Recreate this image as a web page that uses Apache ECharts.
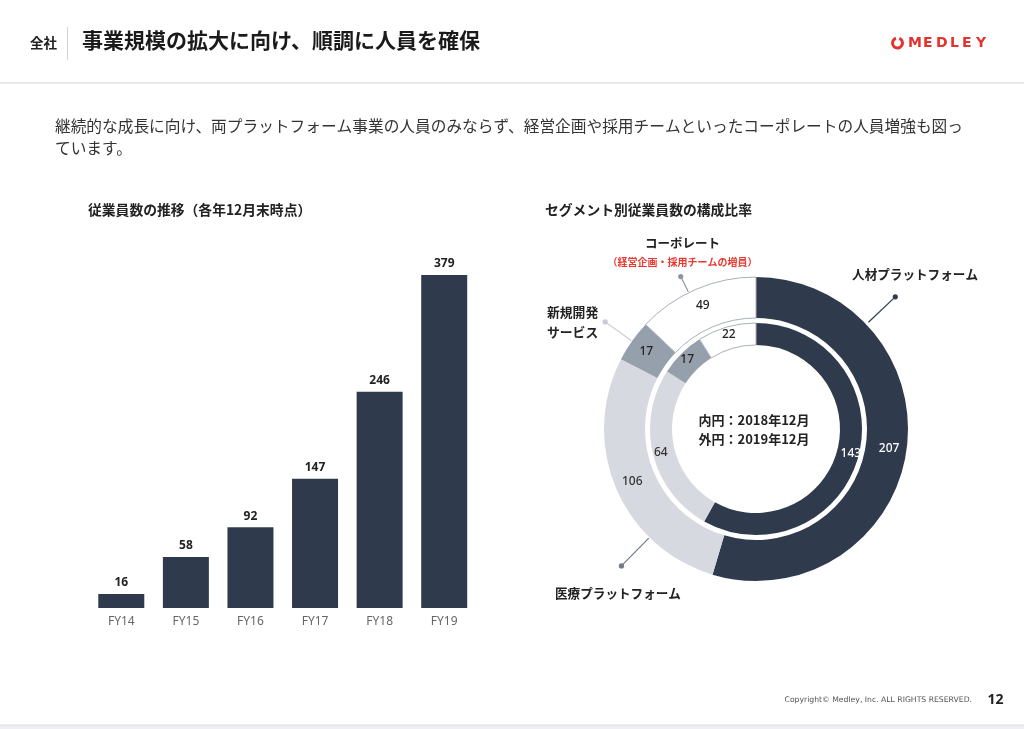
<!DOCTYPE html>
<html>
<head>
<meta charset="utf-8">
<script src="https://cdn.jsdelivr.net/npm/echarts@6/dist/echarts.min.js"></script>
<style>
html,body{margin:0;padding:0;background:#fff;}
#chart{width:1024px;height:729px;}
</style>
</head>
<body>
<div id="chart"></div>
<script>
// ---- data ----
const categories = ['FY14', 'FY15', 'FY16', 'FY17', 'FY18', 'FY19'];
const employees = [16, 58, 92, 147, 246, 379];
const segmentNames = ['人材プラットフォーム', '医療プラットフォーム', '新規開発サービス', 'コーポレート'];
const outer2019 = [207, 106, 17, 49];
const inner2018 = [143, 64, 17, 22];

// ---- styles ----
const JP = '"Noto Sans CJK JP", "Noto Sans", sans-serif';
const DARK = '#2f3b4c';
const LIGHT = '#d6d9df';
const MID = '#96a0ad';
const segColors = [DARK, LIGHT, MID, '#ffffff'];
const labelColors = ['#ffffff', '#333333', '#222222', '#222222'];
const cx = 756, cy = 429;

function pieData(vals) {
  return vals.map((v, i) => ({
    name: segmentNames[i], value: v,
    itemStyle: i === 3 ? {color: '#ffffff', borderColor: '#a9b0ba', borderWidth: 1} : {color: segColors[i]},
    label: {color: labelColors[i]}
  }));
}

function polar(r, deg) {
  const a = deg * Math.PI / 180;
  return [cx + r * Math.sin(a), cy - r * Math.cos(a)];
}
function midAngle(vals, idx) {
  const total = vals.reduce((a, b) => a + b, 0);
  let acc = 0;
  for (let i = 0; i < idx; i++) acc += vals[i];
  return (acc + vals[idx] / 2) / total * 360;
}

// leader lines (annotation layout)
const leaders = [
  {deg: 46.5, r0: 155, r1: 192, color: DARK},
  {deg: 224.5, r0: 153, r1: 192, color: '#6f7b8b'},
  {deg: midAngle(outer2019, 2), r0: 153, r1: 185, color: '#c8ccd2'},
  {deg: midAngle(outer2019, 3) - 3, r0: 153, r1: 170, color: '#8c96a3'}
];

const graphics = [];
// header
graphics.push({type: 'text', left: 30, top: 36, style: {text: '全社', font: 'bold 13.5px ' + JP, fill: '#222'}});
graphics.push({type: 'line', shape: {x1: 67.5, y1: 27, x2: 67.5, y2: 60}, style: {stroke: '#cfd3d9', lineWidth: 1}});
graphics.push({type: 'text', left: 82, top: 30, style: {text: '事業規模の拡大に向け、順調に人員を確保', font: 'bold 21px ' + JP, fill: '#1a1a1a'}});
graphics.push({type: 'line', shape: {x1: 0, y1: 83, x2: 1024, y2: 83}, style: {stroke: '#dfe2e8', lineWidth: 1.5}});
// logo
graphics.push({type: 'arc', shape: {cx: 897.5, cy: 43, r: 5, startAngle: -1.2, endAngle: 4.4}, style: {stroke: '#e5322d', lineWidth: 3, fill: null}});
const logo = 'MEDLEY';
const logoX = [908, 923, 936, 950, 962, 976];
for (let i = 0; i < logo.length; i++) {
  graphics.push({type: 'text', x: logoX[i], y: 43, style: {text: logo[i], font: 'bold 14px "DejaVu Sans", sans-serif', fill: '#e5322d', verticalAlign: 'middle'}});
}
// body text
graphics.push({type: 'text', x: 55, y: 126, style: {text: '継続的な成長に向け、両プラットフォーム事業の人員のみならず、経営企画や採用チームといったコーポレートの人員増強も図っ', font: '15.7px ' + JP, fill: '#333', verticalAlign: 'middle'}});
graphics.push({type: 'text', x: 55, y: 148, style: {text: 'ています。', font: '15.7px ' + JP, fill: '#333', verticalAlign: 'middle'}});
// section titles
graphics.push({type: 'text', x: 88, y: 210, style: {text: '従業員数の推移（各年12月末時点）', font: 'bold 13.8px ' + JP, fill: '#222', verticalAlign: 'middle'}});
graphics.push({type: 'text', x: 545, y: 210, style: {text: 'セグメント別従業員数の構成比率', font: 'bold 13.8px ' + JP, fill: '#222', verticalAlign: 'middle'}});
// donut center text
graphics.push({type: 'text', x: 754, y: 420, style: {text: '内円：2018年12月', font: 'bold 13px ' + JP, fill: '#222', align: 'center', verticalAlign: 'middle'}});
graphics.push({type: 'text', x: 754, y: 439, style: {text: '外円：2019年12月', font: 'bold 13px ' + JP, fill: '#222', align: 'center', verticalAlign: 'middle'}});
// donut outside labels
graphics.push({type: 'text', x: 915, y: 274, style: {text: '人材プラットフォーム', font: 'bold 12.6px ' + JP, fill: '#222', align: 'center', verticalAlign: 'middle'}});
graphics.push({type: 'text', x: 555, y: 593, style: {text: '医療プラットフォーム', font: 'bold 12.6px ' + JP, fill: '#222', verticalAlign: 'middle'}});
graphics.push({type: 'text', x: 547, y: 312, style: {text: '新規開発', font: 'bold 12.8px ' + JP, fill: '#222', verticalAlign: 'middle'}});
graphics.push({type: 'text', x: 547, y: 332, style: {text: 'サービス', font: 'bold 12.8px ' + JP, fill: '#222', verticalAlign: 'middle'}});
graphics.push({type: 'text', x: 682.5, y: 243, style: {text: 'コーポレート', font: 'bold 12.5px ' + JP, fill: '#222', align: 'center', verticalAlign: 'middle'}});
graphics.push({type: 'text', x: 682.5, y: 262.5, style: {text: '（経営企画・採用チームの増員）', font: 'bold 10px ' + JP, fill: '#e8382f', align: 'center', verticalAlign: 'middle'}});
leaders.forEach(l => {
  const p0 = polar(l.r0, l.deg), p1 = polar(l.r1, l.deg);
  graphics.push({type: 'line', z: 10, shape: {x1: p0[0], y1: p0[1], x2: p1[0], y2: p1[1]}, style: {stroke: l.color, lineWidth: 1.2}});
  graphics.push({type: 'circle', z: 10, shape: {cx: p1[0], cy: p1[1], r: 2.6}, style: {fill: l.color}});
});
// footer
graphics.push({type: 'text', x: 972, y: 700, style: {text: 'Copyright© Medley, Inc. ALL RIGHTS RESERVED.', font: '7.7px "DejaVu Sans", sans-serif', fill: '#555', align: 'right', verticalAlign: 'middle'}});
graphics.push({type: 'text', x: 995.5, y: 700, style: {text: '12', font: 'bold 14px "Noto Sans", sans-serif', fill: '#222', align: 'center', verticalAlign: 'middle'}});
graphics.push({type: 'rect', shape: {x: 0, y: 725, width: 1024, height: 4}, style: {fill: '#eeeef4'}});
graphics.push({type: 'line', shape: {x1: 0, y1: 725, x2: 1024, y2: 725}, style: {stroke: '#dcdce4', lineWidth: 1}});

const chart = echarts.init(document.getElementById('chart'), null, {renderer: 'canvas'});
chart.setOption({
  animation: false,
  backgroundColor: '#ffffff',
  textStyle: {fontFamily: JP},
  grid: {left: 89, right: 1024 - 476.5, top: 275, bottom: 729 - 608, containLabel: false},
  xAxis: {
    type: 'category', data: categories,
    axisLine: {show: false}, axisTick: {show: false},
    axisLabel: {color: '#666', fontSize: 12, margin: 8, fontFamily: '"Noto Sans", sans-serif'}
  },
  yAxis: {type: 'value', min: 0, max: 379, show: false, splitLine: {show: false}},
  series: [
    {
      type: 'bar', data: employees, barWidth: 46,
      itemStyle: {color: DARK},
      label: {show: true, position: 'top', distance: 5, color: '#222', fontWeight: 'bold', fontSize: 12, fontFamily: '"Noto Sans", sans-serif'},
      silent: true
    },
    {
      type: 'pie', center: [cx, cy], radius: [111, 152], startAngle: 90, clockwise: true,
      avoidLabelOverlap: false, silent: true,
      label: {show: true, position: 'inside', formatter: '{c}', fontSize: 12, fontWeight: 500, fontFamily: '"Noto Sans", sans-serif'},
      labelLine: {show: false},
      data: pieData(outer2019)
    },
    {
      type: 'pie', center: [cx, cy], radius: [84, 106], startAngle: 90, clockwise: true,
      avoidLabelOverlap: false, silent: true,
      label: {show: true, position: 'inside', formatter: '{c}', fontSize: 12, fontWeight: 500, fontFamily: '"Noto Sans", sans-serif'},
      labelLine: {show: false},
      data: pieData(inner2018)
    }
  ],
  graphic: graphics
});
</script>
</body>
</html>
